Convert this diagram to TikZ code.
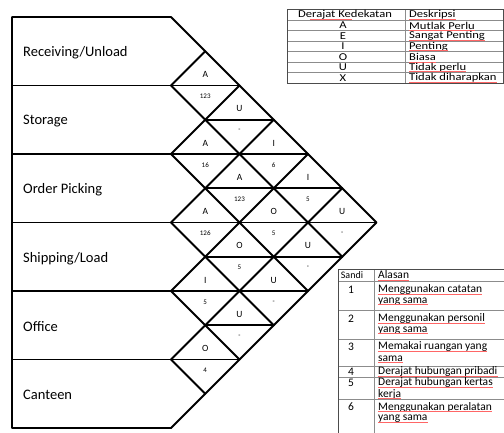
\documentclass[tikz,border=0pt]{standalone}
\usepackage{fontspec}
\setmainfont{Carlito}
\newfontfamily\tabA[FakeStretch=1.2]{Carlito}
\newcommand{\ulnode}[1]{\draw[squig] ([yshift=-1.3pt]#1.base west) -- ([yshift=-1.3pt]#1.base east);}
\begin{document}
\begin{tikzpicture}[x=1pt,y=-1pt,
  grid/.style={line width=1.9pt, line cap=round, line join=round},
  lab/.style={font=\fontsize{14.5}{17}\selectfont, anchor=west, inner sep=0pt},
  rel/.style={font=\fontsize{9.5}{10}\selectfont, inner sep=0pt},
  rsn/.style={font=\fontsize{7}{7}\selectfont, inner sep=0pt},
  tout/.style={line width=0.8pt, draw=black!70},
  tin/.style={line width=0.6pt, draw=black!45},
  ta/.style={font=\tabA\fontsize{10.5}{10.5}\selectfont, inner sep=0pt},
  tb/.style={font=\fontsize{11.5}{12}\selectfont, inner sep=0pt},
  squig/.style={draw=red!60, line width=0.45pt}]
\useasboundingbox (0,0) rectangle (504,432);
\clip (0,0) rectangle (504,432);
\fill[white] (0,0) rectangle (504,432);
\def\h{34.25}
\def\xo{171}
\def\yo{17}
% outer frame
\draw[grid] (12,17) -- (171,17) -- (376.5,222.5) -- (171,428) -- (12,428) -- cycle;
% diagonals down-right
\foreach \k in {1,...,5}
  \draw[grid] (\xo,{\yo+2*\h*\k}) -- ++({\h*(6-\k)},{\h*(6-\k)});
% diagonals up-right
\foreach \k in {1,...,5}
  \draw[grid] (\xo,{\yo+2*\h*\k}) -- ++({\h*\k},{-\h*\k});
% horizontal lines
\foreach \yy/\xl/\xr in {85.5/12/239.5, 119.75/205.25/273.75, 154/12/308,
    188.25/205.25/342.25, 222.5/12/376.5, 256.75/205.25/342.25, 291/12/308,
    325.25/205.25/273.75, 359.5/12/239.5}
  \draw[grid] (\xl,\yy) -- (\xr,\yy);
% row labels
\node[lab] (r1) at (23,52.75) {Receiving/Unload};
\node[lab] (r2) at (23,121.25) {Storage};
\node[lab] (r3) at (23,189.75) {Order Picking};
\node[lab] (r4) at (23,258.25) {Shipping/Load};
\node[lab] (r5) at (23,326.75) {Office};
\node[lab] (r6) at (23,395.25) {Canteen};
% relationship labels
\foreach \i/\j/\t/\b in {1/2/A/123, 1/3/U/-, 1/4/I/6, 1/5/I/5, 1/6/U/-,
    2/3/A/16, 2/4/A/123, 2/5/O/5, 2/6/U/-, 3/4/A/126, 3/5/O/5, 3/6/U/-,
    4/5/I/5, 4/6/U/-, 5/6/O/4}{
  \pgfmathsetmacro\cx{\xo+\h*(\j-\i)}
  \pgfmathsetmacro\cy{\yo+\h*(\i+\j-1)}
  \node[rel] (t\i\j) at (\cx,\cy-11) {\t};
  \node[rsn] (b\i\j) at (\cx,\cy+11) {\b};
}
% table 1
\fill[white] (287,9.5) rectangle (503,83);
\foreach \r in {1,...,6}
  \draw[tin] (287,{9.5+10.5*\r}) -- (503,{9.5+10.5*\r});
\draw[tin] (405,9.5) -- (405,83);
\draw[tout] (287,9.5) rectangle (503,83);
\node[ta] (h1) at (345,15) {Derajat Kedekatan};
\node[ta, anchor=west] (h2) at (409,15) {Deskripsi};
\foreach \r/\l/\d in {1/A/Mutlak Perlu, 2/E/Sangat Penting, 3/I/Penting,
    4/O/Biasa, 5/U/Tidak perlu, 6/X/Tidak diharapkan}{
  \node[ta] (l\r) at (343,{15+10.5*\r}) {\l};
  \node[ta, anchor=west] (d\r) at (409,{15+10.5*\r}) {\d};
  \ulnode{d\r}
}
\ulnode{h2}
\draw[squig] ([xshift=12pt,yshift=-1.3pt]h1.base west) -- ([xshift=-40pt,yshift=-1.3pt]h1.base east);
% table 2
\fill[white] (338,269) rectangle (520,440);
\foreach \yy in {281,310,339,366,377,399}
  \draw[tin] (338,\yy) -- (520,\yy);
\draw[tin] (374,269) -- (374,440);
\draw[tout] (338,440) -- (338,269) -- (520,269);
\node[tb, font=\fontsize{10}{11}\selectfont] (sh) at (352,275) {Sandi};
\node[tb, anchor=west] (ah) at (378,275) {Alasan};
\ulnode{ah}
\foreach \n/\yy in {1/289.5, 2/318.5, 3/346.5, 4/371.5, 5/382.5, 6/407}
  \node[tb] (s\n) at (351,\yy) {\n};
\foreach \m/\yy/\t in {a/289.5/Menggunakan catatan, b/301.5/yang sama,
    c/318.5/Menggunakan personil, d/330.5/yang sama,
    e/346.5/Memakai ruangan yang, f/358.5/sama,
    g/371.5/Derajat hubungan pribadi,
    h/382.5/Derajat hubungan kertas, i/394/kerja,
    j/407/Menggunakan peralatan, k/419/yang sama}{
  \node[tb, anchor=west] (a\m) at (378,\yy) {\t};
  \ulnode{a\m}
}
\end{tikzpicture}
\end{document}
